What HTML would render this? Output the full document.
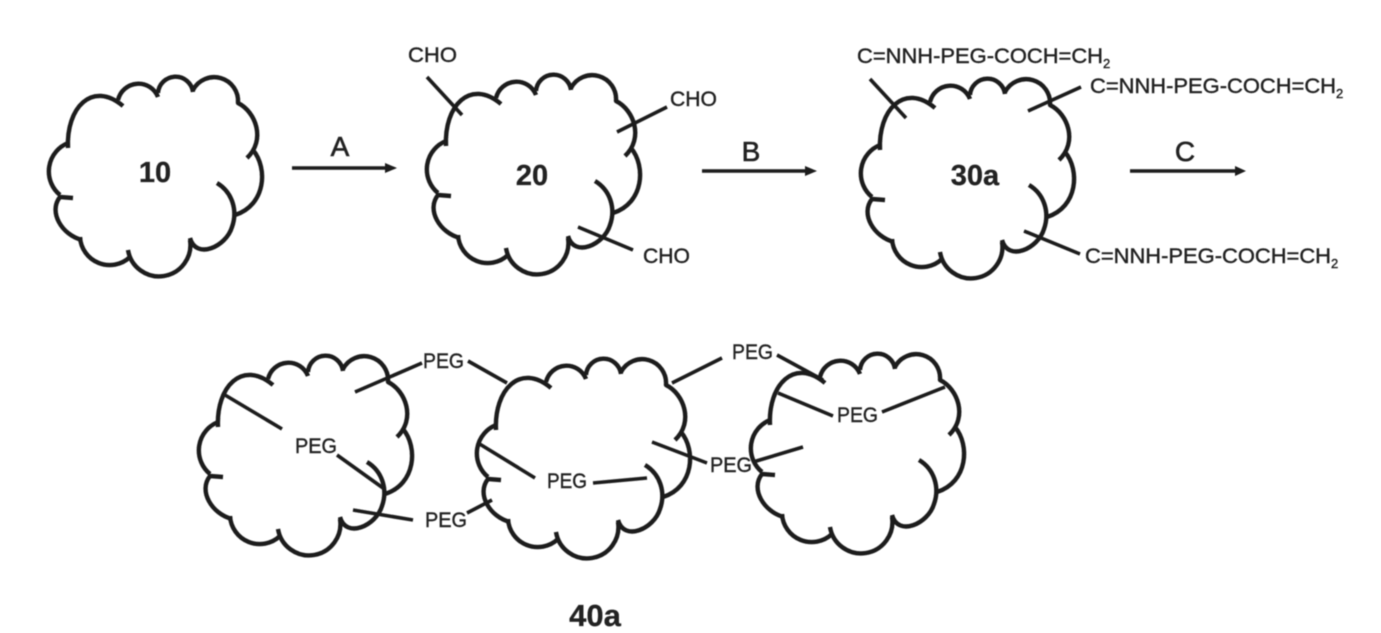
<!DOCTYPE html>
<html><head><meta charset="utf-8"><style>
html,body{margin:0;padding:0;background:#fff}
svg{display:block}
text{font-family:"Liberation Sans",sans-serif;fill:#222;stroke:#222}
.s{font-size:21px;stroke-width:.4}
.b{font-size:29px;font-weight:bold;text-anchor:middle;stroke-width:.3}
.r{font-size:28px;text-anchor:middle;stroke-width:.6}
.u{font-size:13px;stroke-width:.4}
.l{stroke:#1c1c1c;stroke-width:3.6;fill:none;stroke-linecap:butt}
</style></head><body>
<svg width="1381" height="633" viewBox="0 0 1381 633" xmlns="http://www.w3.org/2000/svg">
<defs>
<filter id="f" x="-5%" y="-5%" width="110%" height="110%"><feGaussianBlur stdDeviation="0.55"/></filter>
<g id="cl" fill="none" stroke="#1c1c1c" stroke-width="4.4" stroke-linecap="butt" stroke-linejoin="round">
<path d="M68,148 C66,108 92,80 123,106"/>
<path d="M118,100 A21,21 0 0 1 158,97"/>
<path d="M158,93 A17.6,17.6 0 0 1 193,92"/>
<path d="M193,90 A23.9,23.9 0 0 1 238,103 C256,112 266,140 247,158"/>
<path d="M253,150 C268,168 266,205 235,215"/>
<path d="M217,183 C232,192 238,210 232,227 C226,247 196,260 190,238"/>
<path d="M190,240 A31.4,31.4 0 0 1 128,250"/>
<path d="M130,257 A29.7,29.7 0 0 1 80,237"/>
<path d="M82,240 C62,235 48,212 60,197 L73,198"/>
<path d="M60,195 A30.6,30.6 0 0 1 68,143"/>
</g>
</defs>
<g filter="url(#f)">
<use href="#cl"/>
<use href="#cl" transform="translate(378,-2)"/>
<use href="#cl" transform="translate(812,2)"/>
<use href="#cl" transform="translate(150,279)"/>
<use href="#cl" transform="translate(428,282)"/>
<use href="#cl" transform="translate(702,277)"/>
<path class="l" d="M292,168H385M702,171H805M1130,171H1235"/>
<path class="l" d="M427,77L462,115M667,107L617,132M578,227L633,250"/>
<path class="l" d="M870,79L906,118M1081,87L1028,111M1024,231L1080,254"/>
<path class="l" d="M355,392L422,363M225,395L282,429M337,455L383,488M353,510L413,520"/>
<path class="l" d="M468,361L507,383M467,513L492,500M478,443L535,478M593,483L647,478M652,442L707,463"/>
<path class="l" d="M722,358L672,383M777,355L823,380M778,393L833,416M882,412L945,387M753,462L803,447"/>
<path fill="#1c1c1c" d="M385,163L397,168L385,173ZM805,166L817,171L805,176ZM1235,166L1246,171L1235,176Z"/>
<text class="b" x="155" y="182">10</text>
<text class="b" x="532" y="185">20</text>
<text class="b" x="975" y="185">30a</text>
<text class="b" x="595" y="626" style="font-size:31px">40a</text>
<text class="r" x="340" y="156">A</text>
<text class="r" x="751" y="161">B</text>
<text class="r" x="1185" y="161">C</text>
<text class="s" x="408" y="62" textLength="49" lengthAdjust="spacingAndGlyphs">CHO</text>
<text class="s" x="670" y="106" textLength="47" lengthAdjust="spacingAndGlyphs">CHO</text>
<text class="s" x="643" y="263" textLength="47" lengthAdjust="spacingAndGlyphs">CHO</text>
<text class="s" x="857" y="63" textLength="246" lengthAdjust="spacingAndGlyphs">C=NNH-PEG-COCH=CH</text><text class="u" x="1103" y="68">2</text>
<text class="s" x="1090" y="93" textLength="246" lengthAdjust="spacingAndGlyphs">C=NNH-PEG-COCH=CH</text><text class="u" x="1336" y="98">2</text>
<text class="s" x="1085" y="263" textLength="246" lengthAdjust="spacingAndGlyphs">C=NNH-PEG-COCH=CH</text><text class="u" x="1331" y="268">2</text>
<text class="s" x="295" y="453" textLength="42" lengthAdjust="spacingAndGlyphs">PEG</text>
<text class="s" x="423" y="368" textLength="41" lengthAdjust="spacingAndGlyphs">PEG</text>
<text class="s" x="425" y="527" textLength="42" lengthAdjust="spacingAndGlyphs">PEG</text>
<text class="s" x="547" y="488" textLength="40" lengthAdjust="spacingAndGlyphs">PEG</text>
<text class="s" x="732" y="359" textLength="41" lengthAdjust="spacingAndGlyphs">PEG</text>
<text class="s" x="837" y="422" textLength="41" lengthAdjust="spacingAndGlyphs">PEG</text>
<text class="s" x="710" y="472" textLength="42" lengthAdjust="spacingAndGlyphs">PEG</text>
</g>
</svg>
</body></html>
